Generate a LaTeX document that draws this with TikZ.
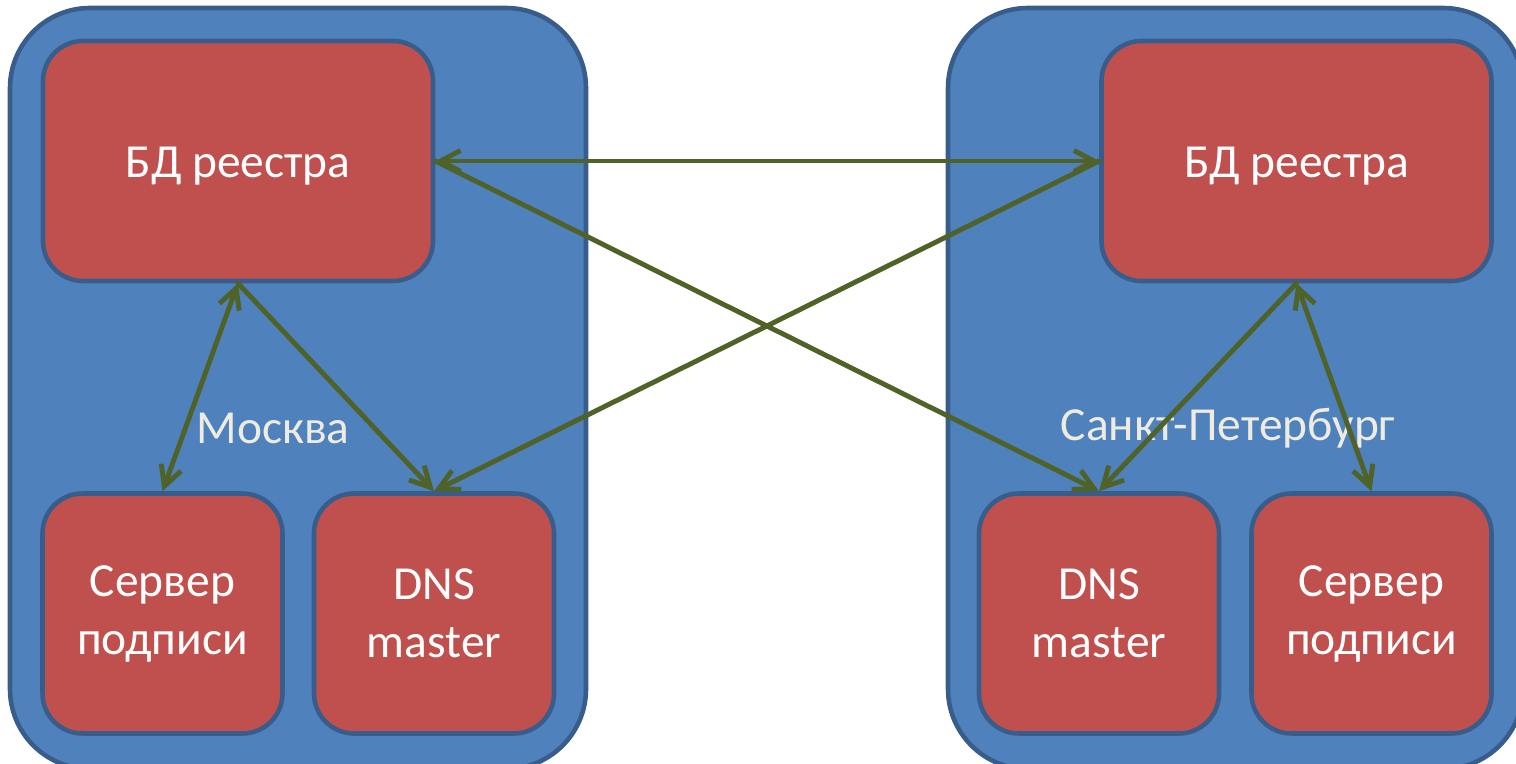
\documentclass[tikz,border=0pt]{standalone}
\usepackage{fontspec}
\setmainfont{Carlito}
\usetikzlibrary{arrows.meta}
\definecolor{cityblue}{HTML}{4F81BD}
\definecolor{edgeblue}{HTML}{385D8A}
\definecolor{boxred}{HTML}{C0504D}
\definecolor{linkgreen}{HTML}{4F6228}
\definecolor{citytext}{HTML}{EEECE1}
\begin{document}
\begin{tikzpicture}[
  city/.style={draw=edgeblue, fill=cityblue, line width=2.6pt, rounded corners=1.6cm},
  srv/.style={draw=edgeblue, fill=boxred, line width=2.6pt, rounded corners=0.8cm,
    text=white, align=center, inner sep=0pt, font=\fontsize{27}{33}\selectfont,
    execute at begin node={\rule{0pt}{23pt}}},
  big/.style={srv, minimum width=7.8cm, minimum height=4.8cm},
  small/.style={srv, minimum width=4.8cm, minimum height=4.8cm},
  lbl/.style={text=citytext, font=\fontsize{27}{33}\selectfont},
  link/.style={draw=linkgreen, line width=2.8pt, line cap=round,
    -{Straight Barb[length=4mm,width=4.2mm]}},
  both/.style={link, {Straight Barb[length=4mm,width=4.2mm]}-{Straight Barb[length=4mm,width=4.2mm]}},
 ]
  \useasboundingbox (0,0) rectangle (30.32,-15.28);

  % two sites
  \draw[city] (0.2,-0.16) rectangle (11.72,-15.38);
  \draw[city] (18.96,-0.16) rectangle (30.46,-15.38);

  \node (mskL) [lbl] at (5.46,-8.56) {Москва};
  \node (spbL) [lbl] at (24.56,-8.56) {Санкт-Петербург};

  % Moscow
  \node (dbM) [big] at (4.76,-3.22) {БД реестра};
  \node (srvM) [small] at (3.25,-12.27) {Сервер\\подписи};
  \node (dnsM) [small] at (8.68,-12.27) {DNS\\master};

  % Saint Petersburg
  \node (dbS) [big] at (25.93,-3.22) {БД реестра};
  \node (dnsS) [small] at (21.98,-12.27) {DNS\\master};
  \node (srvS) [small] at (27.43,-12.27) {Сервер\\подписи};

  \draw[both] (dbM.east) -- (dbS.west);
  \draw[link] (dbM.east) -- (dnsS.north);
  \draw[link] (dbS.west) -- (dnsM.north);
  \draw[both] (dbM.south) -- (srvM.north);
  \draw[link] (dbM.south) -- (dnsM.north);
  \draw[link] (dbS.south) -- (dnsS.north);
  \draw[both] (dbS.south) -- (srvS.north);
\end{tikzpicture}
\end{document}
